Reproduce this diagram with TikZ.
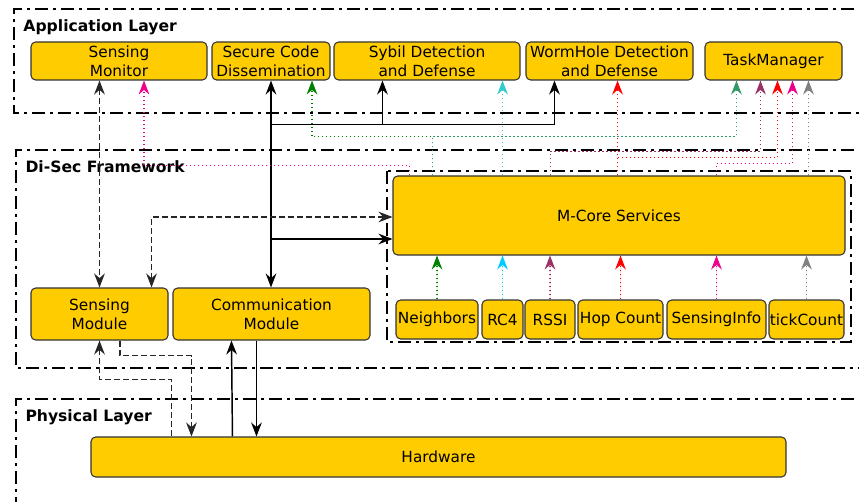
\documentclass[tikz,border=0pt]{standalone}
\usepackage{fontspec}
\setmainfont{DejaVu Sans}
\usetikzlibrary{arrows.meta,calc}
\definecolor{boxyellow}{RGB}{255,204,0}
\definecolor{boxline}{RGB}{51,51,51}
\definecolor{dkgreen}{RGB}{0,128,0}
\definecolor{seagrn}{RGB}{51,153,102}
\definecolor{turq}{RGB}{51,204,204}
\definecolor{skycyan}{RGB}{0,204,255}
\definecolor{plum}{RGB}{153,51,102}
\definecolor{tickgray}{RGB}{128,128,128}
\tikzset{every picture/.style={line width=0.75pt}}
\tikzset{
  block/.style={draw=boxline, fill=boxyellow, rounded corners=3.5pt, line width=0.8pt,
    align=center, inner sep=0pt, font=\fontsize{11.5}{14.3}\selectfont},
  layer/.style={line width=2.2pt, dash pattern=on 9.75pt off 3.75pt on 2.25pt off 3.75pt},
  layerlabel/.style={anchor=west, inner sep=0.75pt, font=\fontsize{11.7}{14}\selectfont\bfseries},
  solidln/.style={line width=1.1pt, black},
  dashln/.style={line width=1pt, black!85, dash pattern=on 4.5pt off 2.25pt},
  dotln/.style={line width=0.8pt, dash pattern=on 1pt off 2pt}
}

\begin{document}
\begin{tikzpicture}[x=0.75pt,y=0.75pt,yscale=-1,xscale=1,
  >={Stealth[length=10.5pt,width=8pt,inset=3.5pt]}]
\useasboundingbox (0,0) rectangle (859,502);

%Layers
\draw[layer] (880,9) -- (14,9) -- (14,113) -- (880,113);
\draw[layer] (880,150) -- (16,150) -- (16,368) -- (880,368);
\draw[layer] (880,399) -- (16,399) -- (16,520);
\draw[layer, line width=2pt] (387,171) rectangle (851,342);

% Text Node
\node[layerlabel] (applbl) at (22,27) {Application Layer};
% Text Node
\node[layerlabel] (seclbl) at (24,167) {Di-Sec Framework};
% Text Node
\node[layerlabel] (phylbl) at (24,417) {Physical Layer};

%Application layer
\node[block, minimum width=132pt, minimum height=28.5pt] (smon) at (119,61) {Sensing\\Monitor};
\node[block, minimum width=88.5pt, minimum height=28.5pt] (scd) at (271,61) {Secure Code\\Dissemination};
\node[block, minimum width=139.5pt, minimum height=28.5pt] (sybil) at (427,61) {Sybil Detection\\and Defense};
\node[block, minimum width=125.25pt, minimum height=28.5pt] (worm) at (609.5,61) {WormHole Detection\\and Defense};
\node[block, minimum width=102.75pt, minimum height=28.5pt] (task) at (773.5,61) {TaskManager};

%Di-Sec framework
\node[block, minimum width=339pt, minimum height=59.25pt] (mcore) at (619,215.5) {M-Core Services};
\node[block, minimum width=61.5pt, minimum height=29.25pt] (neigh) at (437,319.5) {Neighbors};
\node[block, minimum width=30.75pt, minimum height=29.25pt] (rc4) at (502.5,319.5) {RC4};
\node[block, minimum width=37.5pt, minimum height=29.25pt] (rssi) at (550,319.5) {RSSI};
\node[block, minimum width=63.75pt, minimum height=29.25pt] (hop) at (620.5,319.5) {Hop Count};
\node[block, minimum width=74.25pt, minimum height=29.25pt] (sinfo) at (716.5,319.5) {SensingInfo};
\node[block, minimum width=56.25pt, minimum height=29.25pt] (tick) at (806.5,319.5) {tickCount};
\node[block, minimum width=102.75pt, minimum height=39pt] (smod) at (99.5,314) {Sensing\\Module};
\node[block, minimum width=147.75pt, minimum height=39pt] (comm) at (271.5,314) {Communication\\Module};

%Physical layer
\node[block, minimum width=521.25pt, minimum height=30pt] (hw) at (438.5,457) {Hardware};

%Sensing Monitor <-> Sensing Module
\draw[dashln, <->] (smod.north |- smon.south) -- (smod.north);
%Secure Code <-> Communication Module
\draw[solidln, <->] (scd.south) -- (scd.south |- comm.north);
\coordinate (jn) at ($(scd.south)+(0,44)$);
\coordinate (sybtip) at ($(sybil.south west)+(49,0)$);
\coordinate (wormtip) at ($(worm.south west)+(29,0)$);
\draw[solidln, ->] (jn) -| (wormtip);
\draw[solidln, ->] (jn -| sybtip) -- (sybtip);
\coordinate (mcin) at ($(mcore.west)+(0,23.5)$);
\draw[solidln, ->] (scd.south |- mcin) -- (mcin);
%M-Core <-> Sensing Module
\coordinate (mcdash) at ($(mcore.west)+(0,1.5)$);
\coordinate (smodtip) at ($(smod.north east)+(-17,0)$);
\draw[dashln, <->] (mcdash) -| (smodtip);

%services into M-Core
\foreach \s/\c in {neigh/dkgreen, rc4/skycyan, rssi/plum, hop/red, sinfo/magenta, tick/tickgray}
  \draw[dotln, draw=\c, fill=\c, ->] (\s.north) -- (\s.north |- mcore.south);

%M-Core up to the application layer
\coordinate (mgsrc) at ($(mcore.north west)+(17,0)$);
\coordinate (mgtip) at ($(smon.south)+(25,0)$);
\draw[dotln, magenta, ->] (mgsrc) -- ++(0,-10) -| (mgtip);
\coordinate (gnsrc) at ($(mcore.north west)+(40,0)$);
\coordinate (gntip) at ($(scd.south)+(41,0)$);
\coordinate (tk1) at ($(task.south west)+(32,0)$);
\draw[dotln, dkgreen, ->] (gnsrc) -- ++(0,-39) -| (gntip);
\draw[dotln, seagrn, ->] (gnsrc) -- ++(0,-39) -| (tk1);
\coordinate (cytip) at ($(sybil.south east)+(-18,0)$);
\draw[dotln, turq, ->] (cytip |- mcore.north) -- (cytip);
\coordinate (rdtip) at ($(worm.south east)+(-76,0)$);
\coordinate (tk3) at ($(task.south west)+(73,0)$);
\draw[dotln, red, ->] (rdtip |- mcore.north) -- (rdtip);
\draw[dotln, red, ->] ($(rdtip |- mcore.north)+(0,-18)$) -| (tk3);
\coordinate (mrsrc) at ($(mcore.north west)+(158,0)$);
\coordinate (tk2) at ($(task.south west)+(56,0)$);
\draw[dotln, plum, ->] (mrsrc) -- ++(0,-24) -| (tk2);
\coordinate (tk4) at ($(task.south west)+(88,0)$);
\draw[dotln, magenta, ->] (sinfo.north |- mcore.north) -- ++(0,-12) -| (tk4);
\coordinate (tk5) at ($(task.south west)+(104,0)$);
\draw[dotln, tickgray, ->] (tk5 |- mcore.north) -- (tk5);

%Hardware links
\coordinate (hw1) at ($(hw.north west)+(81,0)$);
\draw[dashln, ->] (hw1) -- ++(0,-57) -| (smod.south);
\coordinate (sm1) at ($(smod.south)+(20.5,0)$);
\coordinate (hw2) at ($(hw.north west)+(101,0)$);
\draw[dashln, ->] (sm1) -- ++(0,15) -| (hw2);
\coordinate (hw3) at ($(hw.north west)+(142,0)$);
\coordinate (cm1) at ($(comm.south west)+(59,0)$);
\draw[solidln, ->] (hw3) -- (cm1);
\coordinate (cm2) at ($(comm.south west)+(84,0)$);
\draw[solidln, ->] (cm2) -- (cm2 |- hw.north);

\end{tikzpicture}
\end{document}
